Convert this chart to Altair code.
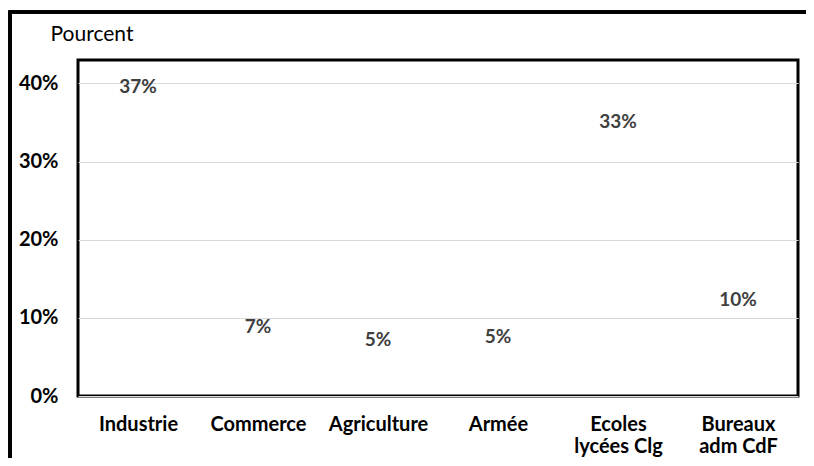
import altair as alt
import pandas as pd

categories = ["Industrie", "Commerce", "Agriculture", "Armée", "Ecoles|lycées Clg", "Bureaux|adm CdF"]
values = [37.4, 6.7, 5.0, 5.4, 32.9, 10.1]
y_ticks = [0, 10, 20, 30, 40]

df = pd.DataFrame({"cat": categories, "value": values})

FONT = "Lato"

x_enc = alt.X(
    "cat:N", sort=categories, title=None,
    scale=alt.Scale(paddingInner=0.0, paddingOuter=0.0),
    axis=alt.Axis(
        labelAngle=0, labelExpr="split(datum.label, '|')",
        labelFont=FONT, labelFontWeight="bold", labelFontSize=20,
        labelColor="#000000", labelPadding=18, labelLineHeight=22,
        labelBaseline="top",
        ticks=False, domain=False, grid=False,
    ),
)
y_enc = alt.Y(
    "value:Q",
    scale=alt.Scale(domain=[0, 43], nice=False),
    axis=alt.Axis(
        values=y_ticks, labelExpr="datum.value + '%'",
        labelFont=FONT, labelFontWeight="bold", labelFontSize=20,
        labelColor="#000000", labelPadding=20,
        ticks=False, domain=False, grid=True,
        gridColor="#d9d9d9", gridWidth=1.2,
        title="Pourcent", titleAngle=0, titleAlign="left",
        titleBaseline="middle", titleX=-28, titleY=-26,
        titleFont=FONT, titleFontWeight="normal", titleFontSize=21,
        titleColor="#000000",
    ),
)

labels = alt.Chart(df).transform_calculate(
    lab="format(datum.value, '.0f') + '%'"
).mark_text(
    font=FONT, fontWeight="bold", fontSize=19, color="#404040",
    dy=-17, baseline="middle",
).encode(x=x_enc, y=y_enc, text="lab:N")

frame = alt.Chart(df).mark_rect(
    fill=None, stroke="#000000", strokeWidth=3, clip=False
).encode(
    x=alt.value(-68), x2=alt.value(800),
    y=alt.value(-48), y2=alt.value(480),
)

chart = alt.layer(frame, labels).properties(
    width=720, height=336,
    background="#ffffff",
    autosize=alt.AutoSizeParams(type="none"),
    padding={"left": 70, "top": 52, "right": 8, "bottom": 62},
).configure_view(
    stroke="#000000", strokeWidth=3,
)

chart.save("out.html", embed_options={"renderer": "svg", "actions": False})
